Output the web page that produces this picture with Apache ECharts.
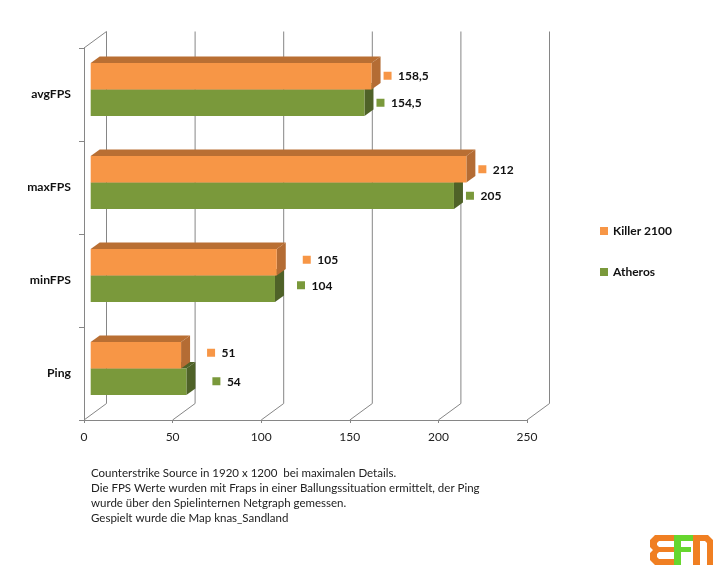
<!DOCTYPE html>
<html>
<head>
<meta charset="utf-8">
<style>html,body{margin:0;padding:0;background:#fff}#c{width:715px;height:565px}</style>
<script src="https://cdn.jsdelivr.net/npm/echarts@6/dist/echarts.min.js"></script>
</head>
<body>
<div id="c"></div>
<script>
// FPS and ping comparison of two network adapters
const categories = ['avgFPS', 'maxFPS', 'minFPS', 'Ping'];
const killerValues = [158.5, 212, 105, 51];
const atherosValues = [154.5, 205, 104, 54];
const axisTicks = [0, 50, 100, 150, 200, 250];
const captionLines = [
  'Counterstrike Source in 1920 x 1200  bei maximalen Details.',
  'Die FPS Werte wurden mit Fraps in einer Ballungssituation ermittelt, der Ping',
  'wurde über den Spielinternen Netgraph gemessen.',
  'Gespielt wurde die Map knas_Sandland'
];

// Hand placement of the value keys: distance from the bar end, and lift above the bar's middle
const killerKeyGap = [3, 3, 17, 17];
const atherosKeyGap = [3, 3, 13, 17];
const killerKeyLift = [0.5, 0, 2.5, 2.5];
const atherosKeyLift = [0, 0, 3.5, 0.5];

const FONT = 'Lato, "Open Sans", sans-serif';
const WALL = [22.5, -16.5];  // shift from the front plane to the back wall
const BAR_SHIFT = [6.7, -5]; // bars stand a little behind the front plane
const DEPTH = [9, -6.5];     // extrusion of each bar

const fmt = v => String(v).replace('.', ',');

const wallItem = (params, api) => {
  const tick = api.value(0);
  const cs = params.coordSys;
  const x = api.coord([tick, 0])[0];
  const top = cs.y, bottom = cs.y + cs.height;
  const pts = [[x, bottom], [x + WALL[0], bottom + WALL[1]], [x + WALL[0], top + WALL[1]]];
  if (tick === axisTicks[0]) pts.push([x, top]);
  return {
    type: 'polyline',
    shape: { points: pts },
    style: { fill: null, stroke: '#868686', lineWidth: 1 }
  };
};

// Extruded bar: side = 'up' sits above the category centre, 'down' below it
const barItem = (colors, side, gaps, lifts) => (params, api) => {
  const value = api.value(0);
  const idx = api.value(1);
  const end = api.coord([value, idx]);
  const start = api.coord([0, idx]);
  const h = api.size([0, 1])[1] * 0.285;
  const x0 = start[0] + BAR_SHIFT[0];
  const x1 = end[0] + BAR_SHIFT[0];
  const yc = end[1] + BAR_SHIFT[1];
  const y0 = side === 'up' ? yc - h : yc;
  const y1 = y0 + h;
  const dx = DEPTH[0], dy = DEPTH[1];
  const keyX = x1 + dx + gaps[idx];
  const midY = (y0 + y1) / 2 - lifts[idx];
  return {
    type: 'group',
    children: [
      { type: 'polygon', shape: { points: [[x0, y0], [x0 + dx, y0 + dy], [x1 + dx, y0 + dy], [x1, y0]] },
        style: { fill: colors.top } },
      { type: 'polygon', shape: { points: [[x1, y0], [x1 + dx, y0 + dy], [x1 + dx, y1 + dy], [x1, y1]] },
        style: { fill: colors.side } },
      { type: 'rect', shape: { x: x0, y: y0, width: x1 - x0, height: h },
        style: { fill: colors.face } },
      { type: 'rect', shape: { x: keyX, y: midY - 4, width: 8, height: 8 },
        style: { fill: colors.face } },
      { type: 'text', x: keyX + 14.5, y: midY + 0.5,
        style: { text: fmt(value), fill: '#111', font: 'bold 12px ' + FONT, textAlign: 'left', textVerticalAlign: 'middle' } }
    ]
  };
};

const orange = { face: '#F79646', top: '#B96F33', side: '#B46C34' };
const green = { face: '#7A993B', top: '#4F6228', side: '#4F6228' };

const logoOrange = '#F07F22';
const logoGreen = '#66D62E';

const chart = echarts.init(document.getElementById('c'), null, { renderer: 'canvas' });
chart.setOption({
  animation: false,
  backgroundColor: '#fff',
  grid: { left: 84, top: 48, width: 443, height: 372, containLabel: false },
  xAxis: {
    type: 'value', min: 0, max: 250, interval: 50,
    axisLine: { show: true, lineStyle: { color: '#868686' } },
    axisTick: { show: true, length: 3, lineStyle: { color: '#868686' } },
    splitLine: { show: false },
    axisLabel: { color: '#222', fontFamily: FONT, fontSize: 12, margin: 11 }
  },
  yAxis: {
    type: 'category', data: categories, inverse: true,
    axisLine: { show: true, lineStyle: { color: '#868686' } },
    axisTick: { show: true, length: 5, lineStyle: { color: '#868686' } },
    axisLabel: { color: '#111', fontFamily: FONT, fontSize: 12.2, fontWeight: 'bold', margin: 13 }
  },
  legend: {
    orient: 'vertical', left: 595, top: 220, itemWidth: 8, itemHeight: 8, itemGap: 29,
    icon: 'rect', data: ['Killer 2100', 'Atheros'],
    textStyle: { color: '#111', fontFamily: FONT, fontSize: 12, fontWeight: 'bold' }
  },
  series: [
    { type: 'custom', name: 'wall', silent: true, z: 1, clip: false,
      encode: { x: 0 }, renderItem: wallItem,
      data: axisTicks.map(t => [t, 0]) },
    { type: 'custom', name: 'Atheros', z: 3, clip: false,
      itemStyle: { color: green.face },
      encode: { x: 0, y: 1 }, renderItem: barItem(green, 'down', atherosKeyGap, atherosKeyLift),
      data: atherosValues.map((v, i) => [v, i]) },
    { type: 'custom', name: 'Killer 2100', z: 4, clip: false,
      itemStyle: { color: orange.face },
      encode: { x: 0, y: 1 }, renderItem: barItem(orange, 'up', killerKeyGap, killerKeyLift),
      data: killerValues.map((v, i) => [v, i]) }
  ],
  graphic: [
    ...captionLines.map((t, i) => ({
      type: 'text', left: 91, top: 467 + i * 15.2,
      style: { text: t, fill: '#222', font: '11.5px ' + FONT }
    })),
    // Site logo in the lower right corner
    { type: 'group', left: 650, top: 535, children: [
      { type: 'polygon', shape: { points: [[5, 0], [24, 0], [24, 6], [9, 6], [7, 8], [7, 10], [9, 12], [24, 12], [24, 17], [9, 17], [7, 19], [7, 22], [9, 24], [24, 24], [24, 30], [5, 30], [0, 25], [0, 18], [3, 15], [0, 12], [0, 5]] },
        style: { fill: logoOrange } },
      { type: 'polygon', shape: { points: [[24, 0], [43, 0], [43, 6], [31, 6], [31, 12], [41, 12], [41, 17], [31, 17], [31, 30], [24, 30]] },
        style: { fill: logoGreen } },
      { type: 'polygon', shape: { points: [[43, 0], [58, 0], [63, 5], [63, 30], [57, 30], [57, 8], [55, 6], [50, 6], [50, 30], [43, 30]] },
        style: { fill: logoOrange } }
    ] }
  ]
});
</script>
</body>
</html>
